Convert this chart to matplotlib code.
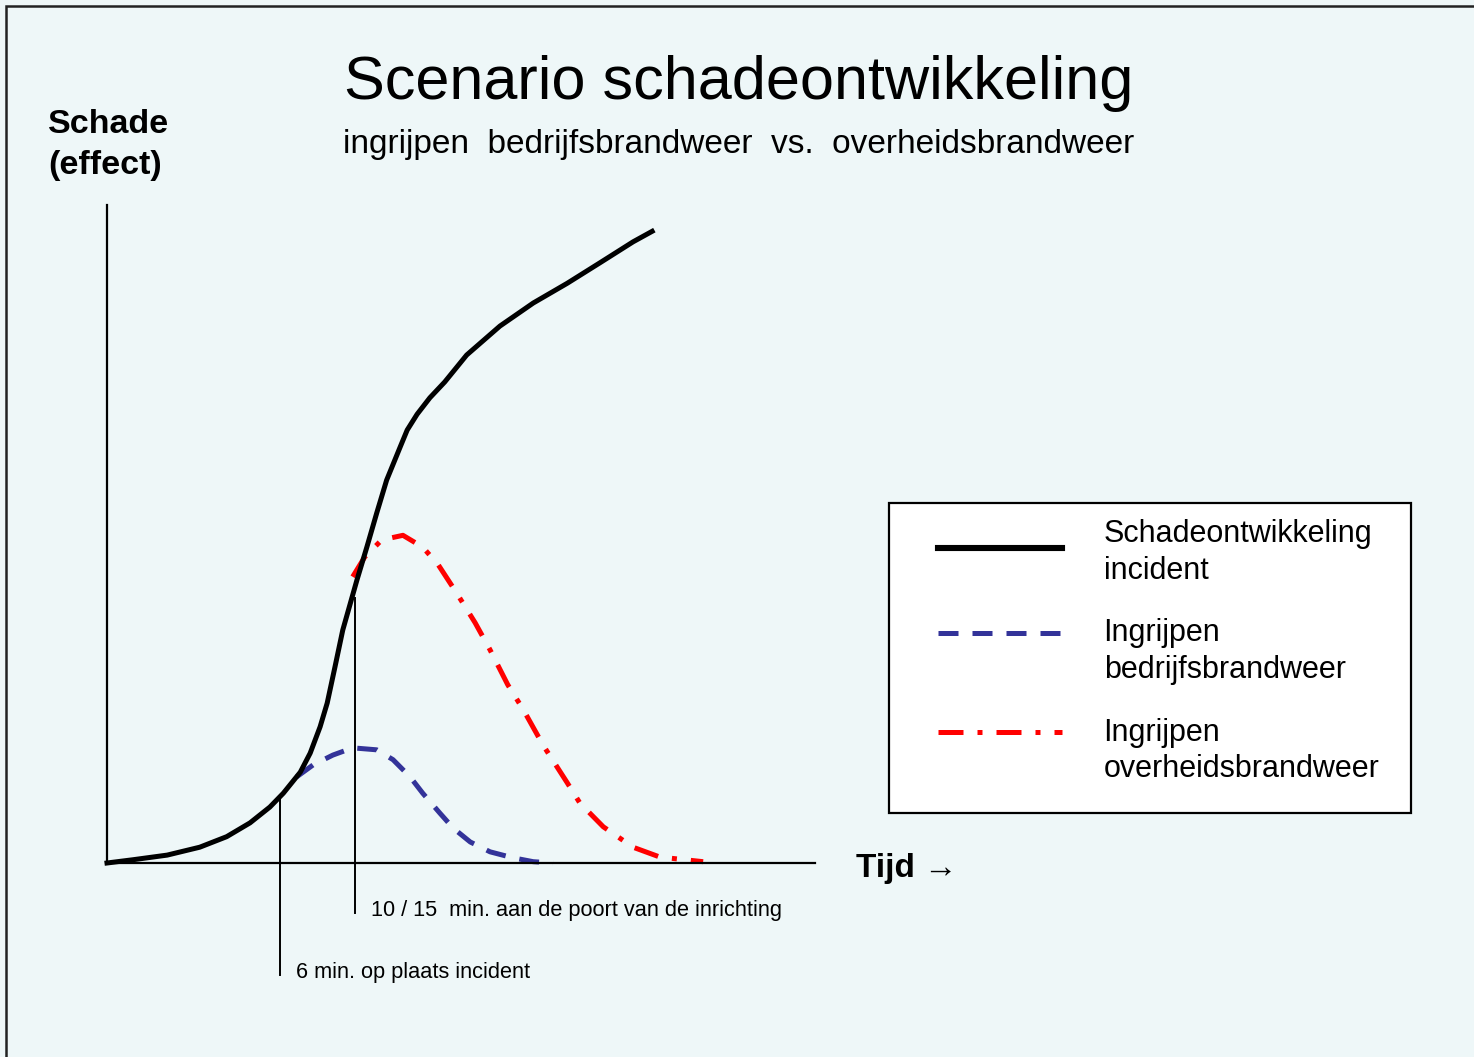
import matplotlib.pyplot as plt
from matplotlib.patches import Rectangle

plt.rcParams['font.family'] = ['Liberation Sans', 'DejaVu Sans']

# time (0-100 along the x-axis) and damage (0-100 along the y-axis)
incident_t = [0, 3.7, 8.5, 13.1, 16.9, 20.2, 23.0, 24.9, 27.3, 28.7, 30.1, 31.1, 32.2, 33.3,
              35.3, 36.7, 38.1, 39.5, 41.4, 42.4, 43.8, 45.6, 47.7, 50.8, 55.5, 60.2, 65.0,
              69.6, 74.3, 77.0]
incident_y = [0, 0.5, 1.2, 2.4, 4.0, 6.1, 8.5, 10.6, 13.8, 16.7, 20.7, 24.3, 29.8, 35.4,
              43.0, 48.0, 53.2, 58.2, 63.2, 65.8, 68.2, 70.7, 73.1, 77.2, 81.6, 85.1, 88.1,
              91.2, 94.4, 96.0]

bedrijf_t = [26.8, 29.1, 31.9, 34.7, 38.1, 40.4, 42.8, 44.6, 47.0, 48.9, 51.3, 54.1, 57.3, 60.2, 63.0]
bedrijf_y = [13.1, 14.9, 16.4, 17.5, 17.2, 15.7, 13.1, 10.6, 7.6, 5.3, 3.2, 1.7, 0.8, 0.2, 0.0]

overheid_t = [34.7, 36.4, 38.8, 41.8, 44.6, 46.8, 49.4, 52.0, 54.1, 56.6, 58.8, 61.6, 65.0,
              66.8, 70.1, 74.3, 78.1, 84.2]
overheid_y = [43.5, 46.5, 49.1, 49.8, 48.0, 45.3, 41.0, 36.5, 32.4, 27.1, 23.3, 17.9, 12.2,
              9.1, 5.5, 2.4, 0.9, 0.2]

# arrival moments
marker_t = [24.4, 35.0]
marker_top = [10.3, 40.3]
marker_bottom = [-17.0, -7.6]
marker_labels = ["6 min. op plaats incident", "10 / 15  min. aan de poort van de inrichting"]

legend_labels = ["Schadeontwikkeling\nincident",
                 "Ingrijpen\nbedrijfsbrandweer",
                 "Ingrijpen\noverheidsbrandweer"]

bg = '#eef7f8'
W, H = 1474, 1057
fig = plt.figure(figsize=(W / 100, H / 100), dpi=100, facecolor=bg)
fig.add_artist(Rectangle((6 / W, -0.1), 1.2, 1 - 6 / H + 0.1, transform=fig.transFigure,
                         fill=False, edgecolor='#222222', linewidth=1.8))
# legend frame
fig.add_artist(Rectangle((889 / W, 1 - 813 / H), (1411 - 889) / W, (813 - 503) / H,
                         transform=fig.transFigure, facecolor='white', edgecolor='black',
                         linewidth=1.6, zorder=-1))

ax = fig.add_axes([107 / W, (H - 863) / H, (815 - 107) / W, (863 - 205) / H])
ax.set_facecolor('none')
ax.set_xlim(0, 100)
ax.set_ylim(0, 100)
for side in ['top', 'right']:
    ax.spines[side].set_visible(False)
for side in ['left', 'bottom']:
    ax.spines[side].set_linewidth(1.6)
ax.set_xticks([])
ax.set_yticks([])

ax.plot(bedrijf_t, bedrijf_y, color='#333399', lw=3.6, ls=(0, (4, 2.8)), clip_on=False,
        dash_capstyle='butt', dash_joinstyle='round', label=legend_labels[1], zorder=2)
ax.plot(overheid_t, overheid_y, color='#ff0000', lw=3.6, ls=(0, (5, 2.8, 1, 2.8)), clip_on=False,
        dash_capstyle='butt', dash_joinstyle='round', label=legend_labels[2], zorder=2)
ax.plot(incident_t, incident_y, color='black', lw=3.6, clip_on=False,
        solid_joinstyle='round', label=legend_labels[0], zorder=3)

for t, top, bottom, lab in zip(marker_t, marker_top, marker_bottom, marker_labels):
    ax.plot([t, t], [top, bottom], color='black', lw=1.4, clip_on=False, zorder=1)
    ax.text(t + 2.3, bottom + 0.4, lab, fontsize=15.7, va='center', ha='left')

ax.text(105.8, -0.8, "Tijd \u2192", fontsize=24, fontweight='bold', va='center', ha='left')

fig.text(48 / W, 1 - 145 / H, "Schade\n(effect)", fontsize=24.5, fontweight='bold',
         va='center', ha='left', linespacing=1.4)
fig.text(739 / W, 1 - 84 / H, "Scenario schadeontwikkeling", fontsize=44,
         va='center', ha='center')
fig.text(739 / W, 1 - 145 / H, "ingrijpen  bedrijfsbrandweer  vs.  overheidsbrandweer",
         fontsize=24, va='center', ha='center')

handles, labels = ax.get_legend_handles_labels()
order = [2, 0, 1]
leg = ax.legend([handles[i] for i in order], [labels[i] for i in order],
                loc='upper left', bbox_to_anchor=(938 / W, 1 - 519 / H),
                bbox_transform=fig.transFigure, borderaxespad=0, borderpad=0,
                fontsize=22, handlelength=4.05, handletextpad=1.37,
                labelspacing=1.06, frameon=False)
for txt in leg.get_texts():
    txt.set_linespacing(1.3)
# the sample lines sit a bit above the middle of their two-line labels
for line, lift in zip(leg.get_lines(), [4, 14, 14]):
    line.set_ydata([y + lift for y in line.get_ydata()])
leg.get_lines()[0].set_linewidth(4.4)

fig.savefig('out.png', dpi=100, facecolor=bg)
